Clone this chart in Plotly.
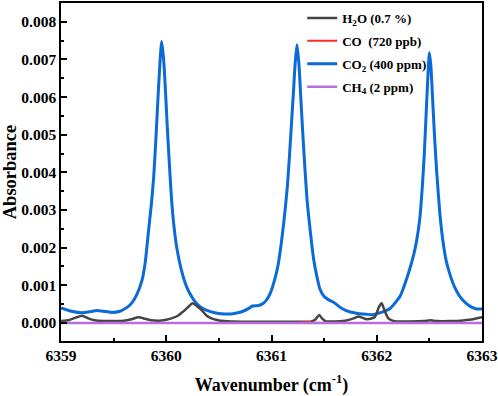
import plotly.graph_objects as go

# ---------------- data ----------------
co2_x = [6359.00, 6359.10, 6359.20, 6359.28, 6359.34, 6359.40, 6359.48, 6359.56, 6359.62, 6359.67,
         6359.72, 6359.77, 6359.80, 6359.83, 6359.86, 6359.88, 6359.90, 6359.92, 6359.94, 6359.957,
         6359.975, 6359.99, 6360.01, 6360.03, 6360.05, 6360.07, 6360.10, 6360.14, 6360.18, 6360.22,
         6360.27, 6360.32, 6360.38, 6360.46, 6360.55, 6360.62, 6360.68, 6360.73, 6360.78, 6360.82,
         6360.87, 6360.91, 6360.95, 6360.99, 6361.03, 6361.06, 6361.09, 6361.12, 6361.15, 6361.17,
         6361.19, 6361.21, 6361.225, 6361.242, 6361.26, 6361.28, 6361.30, 6361.32, 6361.34, 6361.37,
         6361.40, 6361.43, 6361.46, 6361.50, 6361.54, 6361.59, 6361.65, 6361.70, 6361.75, 6361.82,
         6361.90, 6361.96, 6362.02, 6362.08, 6362.13, 6362.18, 6362.22, 6362.25, 6362.28, 6362.31,
         6362.35, 6362.38, 6362.41, 6362.43, 6362.45, 6362.47, 6362.485, 6362.50, 6362.515, 6362.53,
         6362.55, 6362.57, 6362.60, 6362.63, 6362.66, 6362.70, 6362.74, 6362.79, 6362.85, 6362.90,
         6362.95, 6363.00]
co2_y = [0.00040, 0.00031, 0.00027, 0.00030, 0.00033, 0.00031, 0.00028, 0.00031, 0.00040, 0.00052,
         0.00075, 0.00114, 0.00160, 0.00240, 0.00320, 0.00385, 0.00480, 0.00590, 0.00690, 0.00748,
         0.00700, 0.00630, 0.00520, 0.00420, 0.00330, 0.00265, 0.00200, 0.00145, 0.00106, 0.00080,
         0.00058, 0.00043, 0.00034, 0.00027, 0.00024, 0.00024, 0.00027, 0.00031, 0.00038, 0.00045,
         0.00046, 0.00050, 0.00060, 0.00080, 0.00115, 0.00150, 0.00205, 0.00275, 0.00360, 0.00440,
         0.00530, 0.00620, 0.00690, 0.00739, 0.00690, 0.00590, 0.00490, 0.00400, 0.00320, 0.00240,
         0.00170, 0.00125, 0.00090, 0.00070, 0.00062, 0.00055, 0.00042, 0.00034, 0.00029, 0.00025,
         0.00023, 0.00022, 0.00026, 0.00032, 0.00039, 0.00055, 0.00070, 0.00090, 0.00114, 0.00140,
         0.00180, 0.00220, 0.00280, 0.00350, 0.00440, 0.00560, 0.00650, 0.00718, 0.00680, 0.00600,
         0.00490, 0.00400, 0.00290, 0.00215, 0.00165, 0.00125, 0.00095, 0.00070, 0.00052, 0.00042,
         0.00037, 0.00037]

h2o_x = [6359.00, 6359.08, 6359.14, 6359.20, 6359.26, 6359.32, 6359.40, 6359.50, 6359.60, 6359.67,
         6359.735, 6359.80, 6359.86, 6359.93, 6359.99, 6360.05, 6360.11, 6360.16, 6360.20, 6360.25,
         6360.29, 6360.34, 6360.385, 6360.43, 6360.48, 6360.55, 6360.63, 6360.80, 6361.00, 6361.20,
         6361.38, 6361.42, 6361.454, 6361.48, 6361.51, 6361.60, 6361.70, 6361.78, 6361.825, 6361.87,
         6361.905, 6361.95, 6361.98, 6362.00, 6362.02, 6362.047, 6362.065, 6362.08, 6362.11, 6362.15,
         6362.19, 6362.30, 6362.45, 6362.51, 6362.57, 6362.70, 6362.80, 6362.90, 6363.00]
h2o_y = [0.00005, 0.00008, 0.00014, 0.00019, 0.00012, 0.00007, 0.00005, 0.00005, 0.00006, 0.00010,
         0.00015, 0.00011, 0.00007, 0.00006, 0.00008, 0.00012, 0.00019, 0.00030, 0.00040, 0.00052,
         0.00045, 0.00033, 0.00019, 0.00012, 0.00008, 0.00005, 0.00004, 0.00003, 0.00003, 0.00003,
         0.00004, 0.00010, 0.00021, 0.00012, 0.00005, 0.00004, 0.00006, 0.00012, 0.00017, 0.00013,
         0.00010, 0.00012, 0.00015, 0.00026, 0.00042, 0.00052, 0.00040, 0.00029, 0.00012, 0.00006,
         0.00004, 0.00004, 0.00005, 0.00007, 0.00005, 0.00005, 0.00006, 0.00009, 0.00015]

co_x = [6359.00, 6361.20, 6361.30, 6361.34, 6361.38, 6361.48, 6363.00]
co_y = [0.0, 0.0, 0.00001, 0.00003, 0.00001, 0.0, 0.0]

ch4_x = [6359.00, 6363.00]
ch4_y = [0.0, 0.0]

names = ["H<sub>2</sub>O (0.7 %)", "CO  (720 ppb)", "CO<sub>2</sub> (400 ppm)", "CH<sub>4</sub> (2 ppm)"]
x_ticks = [6359, 6360, 6361, 6362, 6363]

# ---------------- figure ----------------
FONT = "Liberation Serif"
fig = go.Figure()
fig.add_trace(go.Scatter(x=co2_x, y=co2_y, mode="lines", name=names[2], legendrank=3, legendgroup="c",
                         line=dict(color="#0a6ad8", width=3, shape="spline", smoothing=0.6)))
fig.add_trace(go.Scatter(x=h2o_x, y=h2o_y, mode="lines", name=names[0], legendrank=1, legendgroup="a",
                         line=dict(color="#444444", width=2.5, shape="spline", smoothing=0.6)))
fig.add_trace(go.Scatter(x=co_x, y=co_y, mode="lines", name=names[1], legendrank=2, legendgroup="b",
                         line=dict(color="#ff2a2a", width=2, shape="spline", smoothing=0.6)))
fig.add_trace(go.Scatter(x=ch4_x, y=ch4_y, mode="lines", name=names[3], legendrank=4, legendgroup="d",
                         line=dict(color="#b86ee0", width=2.5)))

axis_common = dict(showline=True, linecolor="black", linewidth=1.5, mirror=True,
                   ticks="inside", ticklen=6, tickwidth=1.5, tickcolor="black",
                   showgrid=False, zeroline=False, automargin=False,
                   tickfont=dict(family=FONT, size=15.5, color="black", weight="bold"))

fig.update_xaxes(range=[6359, 6363], tickvals=x_ticks,
                 minor=dict(ticks="inside", ticklen=3, tickwidth=1.5, tickcolor="black", dtick=0.5),
                 title=dict(text="<b>Wavenumber (cm<sup>-1</sup>)</b>",
                            font=dict(family=FONT, size=18, color="black")),
                 **axis_common)
fig.update_yaxes(range=[-0.00048, 0.0085], dtick=0.001, tick0=0, tickformat=".3f",
                 minor=dict(ticks="inside", ticklen=3, tickwidth=1.5, tickcolor="black", dtick=0.0005),
                 title=dict(text="<b>Absorbance</b>",
                            font=dict(family=FONT, size=18.5, color="black")),
                 **axis_common)

fig.update_layout(
    width=498, height=396,
    margin=dict(l=61, r=16, t=3, b=55),
    plot_bgcolor="white", paper_bgcolor="white",
    legend=dict(x=0.573, y=1.0, xanchor="left", yanchor="top",
                bgcolor="rgba(0,0,0,0)", borderwidth=0,
                font=dict(family=FONT, size=13, color="black", weight="bold"),
                tracegroupgap=3),
    showlegend=True,
)

fig.write_html("out.html", config={"displayModeBar": False},
               post_script="document.body.style.margin='0px';")
